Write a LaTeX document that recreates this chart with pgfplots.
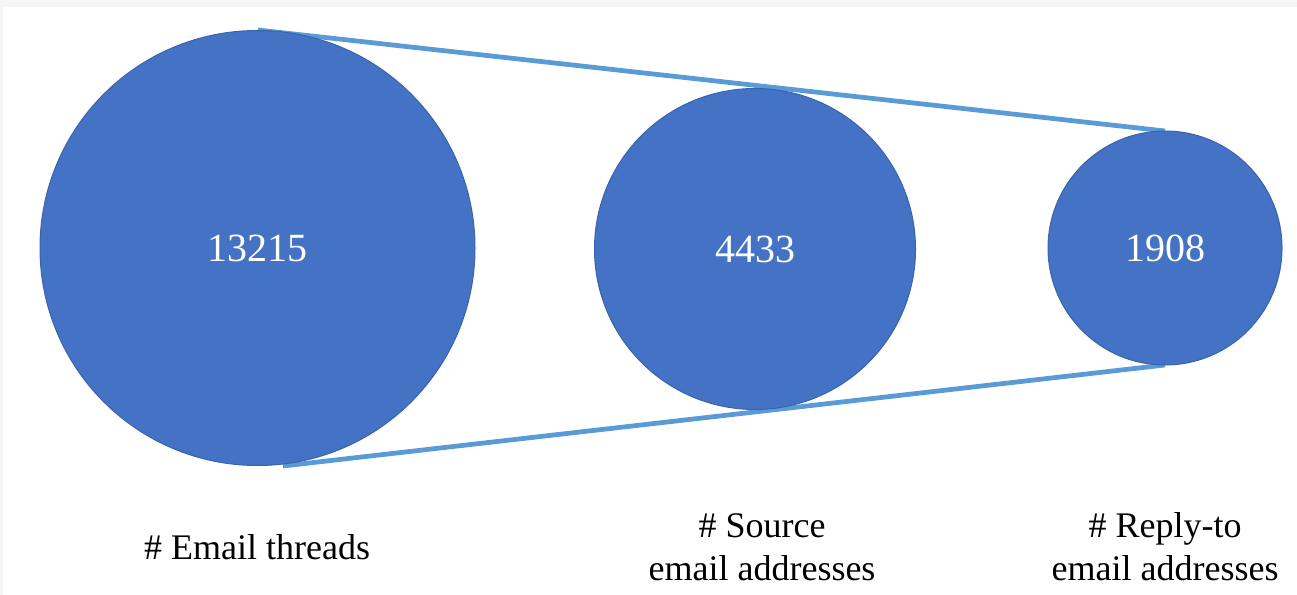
\documentclass[border=0pt]{standalone}
\usepackage{pgfplots}
\pgfplotsset{compat=1.18}
\usepackage{fontspec}
\setmainfont{Liberation Serif}

\definecolor{circblue}{HTML}{4472C4}
\definecolor{circedge}{HTML}{3A63AE}
\definecolor{linkblue}{HTML}{5B9BD5}

\begin{document}
\begin{tikzpicture}
\begin{axis}[
    width=518.8pt, height=238pt,
    scale only axis,
    xmin=0, xmax=1297, ymin=0, ymax=595,
    hide axis,
    clip=false,
    circ/.style={only marks, mark=*,
        mark options={draw=circedge, fill=circblue, line width=0.4pt},
        point meta=explicit symbolic,
        nodes near coords,
        every node near coord/.append style={anchor=center, text=white,
            font=\fontsize{16}{19}\selectfont}},
]
% thin grey frame at top and left
\fill[gray!8] (axis cs:0,588) rectangle (axis cs:1297,595);
\fill[gray!8] (axis cs:0,0) rectangle (axis cs:3,595);

% mark size = radius in px * 0.4pt
\addplot[circ, mark size=87pt]   coordinates {(257.5,347) [13215]};
\addplot[circ, mark size=64.2pt] coordinates {(755,346) [4433]};
\addplot[circ, mark size=46.8pt] coordinates {(1165,347) [1908]};

\addplot[linkblue, line width=1.9pt] coordinates {(258,565) (1165,464)};
\addplot[linkblue, line width=1.9pt] coordinates {(283,129) (1165,230)};

\node[font=\fontsize{14.4}{17.2}\selectfont, align=center] at (axis cs:257,48) {\# Email threads};
\node[font=\fontsize{14.4}{17.2}\selectfont, align=center] at (axis cs:762,48) {\# Source\\email addresses};
\node[font=\fontsize{14.4}{17.2}\selectfont, align=center] at (axis cs:1165,48) {\# Reply-to\\email addresses};
\end{axis}
\end{tikzpicture}
\end{document}
